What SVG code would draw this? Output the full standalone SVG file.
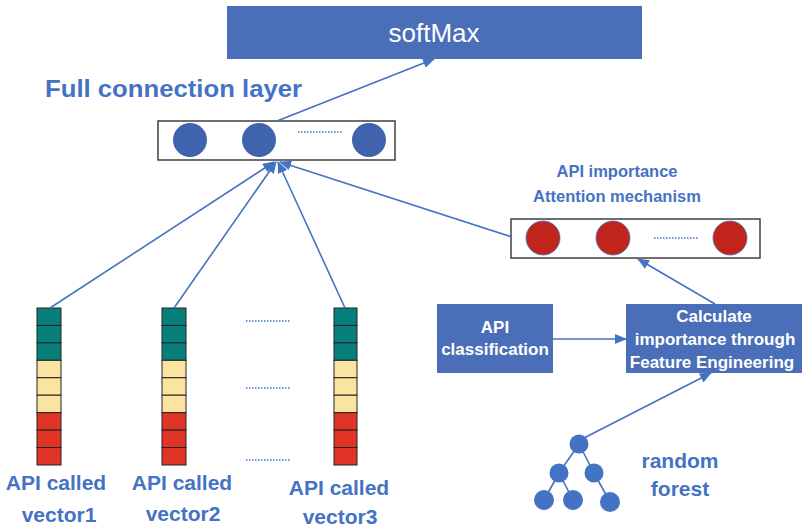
<svg xmlns="http://www.w3.org/2000/svg" width="803" height="527" viewBox="0 0 803 527">
<defs>
<style>
.lbl{font-family:"Liberation Sans",Arial,sans-serif;font-weight:bold;fill:#4472C4}
.wt{font-family:"Liberation Sans",Arial,sans-serif;fill:#fff}
.box{fill:#4A6FB8}
.layer{fill:#fff;stroke:#404040;stroke-width:1.5}
.bc{fill:#3F63AC}
.rc{fill:#C0241B;stroke:#4472C4;stroke-width:0.8}
.con{stroke:#4472C4;stroke-width:1.6;fill:none}
.dot{stroke:#4472C4;stroke-width:1.6;stroke-dasharray:1.5 1.5;fill:none}
.teal{fill:#07807C;stroke:#222;stroke-width:1}
.yel{fill:#FBE4A0;stroke:#222;stroke-width:1}
.red{fill:#E03526;stroke:#222;stroke-width:1}
.tn{fill:#4472C4}
</style>
<marker id="ah" markerWidth="12" markerHeight="10" refX="11" refY="5" orient="auto" markerUnits="userSpaceOnUse">
<path d="M0,0 L12,5 L0,10 Z" fill="#4472C4"/>
</marker>
</defs>

<g id="softmax">
<rect class="box" x="227" y="6" width="415" height="53"/>
<text class="wt" x="434" y="42" font-size="26" text-anchor="middle">softMax</text>
</g>

<g id="fc-label">
<text class="lbl" x="45" y="97" font-size="24" textLength="257" lengthAdjust="spacingAndGlyphs">Full connection layer</text>
</g>

<g id="fc-layer">
<rect class="layer" x="158" y="121" width="237" height="39"/>
<circle class="bc" cx="190" cy="140" r="17"/>
<circle class="bc" cx="259" cy="140" r="17"/>
<line class="dot" x1="298" y1="132" x2="342" y2="132"/>
<circle class="bc" cx="369" cy="140" r="17"/>
</g>

<g id="attention-label">
<text class="lbl" x="617" y="177" font-size="16.5" text-anchor="middle">API importance</text>
<text class="lbl" x="617" y="202" font-size="16.5" text-anchor="middle">Attention mechanism</text>
</g>

<g id="attention-layer">
<rect class="layer" x="511" y="219" width="249" height="39"/>
<circle class="rc" cx="543" cy="238" r="17"/>
<circle class="rc" cx="613" cy="238" r="17"/>
<line class="dot" x1="654" y1="238" x2="699" y2="238"/>
<circle class="rc" cx="730" cy="238" r="17"/>
</g>

<g id="vector1">
<rect class="teal" x="37" y="308" width="24" height="17.44"/>
<rect class="teal" x="37" y="325.44" width="24" height="17.44"/>
<rect class="teal" x="37" y="342.88" width="24" height="17.44"/>
<rect class="yel" x="37" y="360.33" width="24" height="17.44"/>
<rect class="yel" x="37" y="377.77" width="24" height="17.44"/>
<rect class="yel" x="37" y="395.22" width="24" height="17.44"/>
<rect class="red" x="37" y="412.66" width="24" height="17.44"/>
<rect class="red" x="37" y="430.1" width="24" height="17.44"/>
<rect class="red" x="37" y="447.55" width="24" height="17.44"/>
<text class="lbl" x="56" y="490" font-size="21" text-anchor="middle">API called</text>
<text class="lbl" x="59" y="522" font-size="21" text-anchor="middle">vector1</text>
</g>

<g id="vector2">
<rect class="teal" x="162" y="308" width="24" height="17.44"/>
<rect class="teal" x="162" y="325.44" width="24" height="17.44"/>
<rect class="teal" x="162" y="342.88" width="24" height="17.44"/>
<rect class="yel" x="162" y="360.33" width="24" height="17.44"/>
<rect class="yel" x="162" y="377.77" width="24" height="17.44"/>
<rect class="yel" x="162" y="395.22" width="24" height="17.44"/>
<rect class="red" x="162" y="412.66" width="24" height="17.44"/>
<rect class="red" x="162" y="430.1" width="24" height="17.44"/>
<rect class="red" x="162" y="447.55" width="24" height="17.44"/>
<text class="lbl" x="182" y="490" font-size="21" text-anchor="middle">API called</text>
<text class="lbl" x="183" y="521" font-size="21" text-anchor="middle">vector2</text>
</g>

<g id="vector-dots">
<line class="dot" x1="246" y1="321" x2="291" y2="321"/>
<line class="dot" x1="246" y1="388" x2="291" y2="388"/>
<line class="dot" x1="246" y1="460" x2="291" y2="460"/>
</g>

<g id="vector3">
<rect class="teal" x="334" y="308" width="23" height="17.44"/>
<rect class="teal" x="334" y="325.44" width="23" height="17.44"/>
<rect class="teal" x="334" y="342.88" width="23" height="17.44"/>
<rect class="yel" x="334" y="360.33" width="23" height="17.44"/>
<rect class="yel" x="334" y="377.77" width="23" height="17.44"/>
<rect class="yel" x="334" y="395.22" width="23" height="17.44"/>
<rect class="red" x="334" y="412.66" width="23" height="17.44"/>
<rect class="red" x="334" y="430.1" width="23" height="17.44"/>
<rect class="red" x="334" y="447.55" width="23" height="17.44"/>
<text class="lbl" x="339" y="495" font-size="21" text-anchor="middle">API called</text>
<text class="lbl" x="340" y="524" font-size="21" text-anchor="middle">vector3</text>
</g>

<g id="api-classification">
<rect class="box" x="437" y="304" width="116" height="69"/>
<text class="wt" x="495" y="333" font-size="17" font-weight="bold" text-anchor="middle">API</text>
<text class="wt" x="495" y="355" font-size="17" font-weight="bold" text-anchor="middle">classification</text>
</g>

<g id="calculate">
<rect class="box" x="626" y="304" width="176" height="69"/>
<text class="wt" x="714" y="322" font-size="17" font-weight="bold" text-anchor="middle">Calculate</text>
<text class="wt" x="715" y="345" font-size="17" font-weight="bold" text-anchor="middle">importance through</text>
<text class="wt" x="712" y="368" font-size="17" font-weight="bold" text-anchor="middle">Feature Engineering</text>
</g>

<g id="random-forest">
<line class="con" x1="579" y1="444" x2="559" y2="473"/>
<line class="con" x1="579" y1="444" x2="594" y2="473"/>
<line class="con" x1="559" y1="473" x2="544" y2="500"/>
<line class="con" x1="559" y1="473" x2="573" y2="500"/>
<line class="con" x1="594" y1="473" x2="610" y2="502"/>
<circle class="tn" cx="579" cy="444" r="9.5"/>
<circle class="tn" cx="559" cy="473" r="9.5"/>
<circle class="tn" cx="594" cy="473" r="9.5"/>
<circle class="tn" cx="544" cy="500" r="10"/>
<circle class="tn" cx="573" cy="500" r="10"/>
<circle class="tn" cx="610" cy="502" r="10"/>
<text class="lbl" x="680" y="468" font-size="21" text-anchor="middle">random</text>
<text class="lbl" x="680" y="496" font-size="21" text-anchor="middle">forest</text>
</g>

<g id="connectors">
<line class="con" x1="277" y1="121" x2="434" y2="59" marker-end="url(#ah)"/>
<line class="con" x1="50" y1="308" x2="274" y2="162" marker-end="url(#ah)"/>
<line class="con" x1="174" y1="308" x2="276" y2="162" marker-end="url(#ah)"/>
<line class="con" x1="345" y1="308" x2="278" y2="162" marker-end="url(#ah)"/>
<line class="con" x1="512" y1="237" x2="280" y2="162" marker-end="url(#ah)"/>
<line class="con" x1="715" y1="304" x2="638" y2="259" marker-end="url(#ah)"/>
<line class="con" x1="553" y1="339" x2="626" y2="339" marker-end="url(#ah)"/>
<line class="con" x1="584" y1="438" x2="711" y2="373" marker-end="url(#ah)"/>
</g>
</svg>
